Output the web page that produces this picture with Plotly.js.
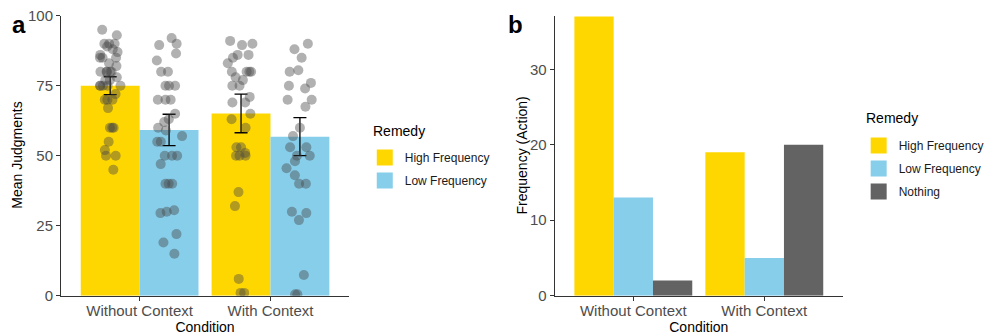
<!DOCTYPE html>
<html>
<head>
<meta charset="utf-8">
<script src="https://cdn.plot.ly/plotly-3.0.1.min.js"></script>
<style>html,body{margin:0;padding:0;background:#fff;}#chart{width:989px;height:336px;}</style>
</head>
<body>
<div id="chart"></div>
<script>
// ---------- data ----------
const conditions = ["Without Context", "With Context"];
const remedies = ["High Frequency", "Low Frequency", "Nothing"];

// Panel a: mean judgments and error half-widths
const meanHigh = [75.0, 65.1];
const meanLow = [59.2, 56.8];
const errHigh = [3.2, 6.9];
const errLow = [5.6, 6.8];

// Panel a: individual judgments
const woHigh = [95, 93, 90, 90, 89, 87, 86, 85, 83, 82, 80, 80, 80, 80, 77, 77, 75, 75, 75, 75,
  70, 70, 70, 67, 60, 60, 60, 55, 52, 50, 50, 45, 88, 85, 80, 78, 75, 72, 90, 85];
const woLow = [92, 90, 89.5, 86.5, 84, 80, 80, 75, 75, 75, 70, 70, 70, 65, 63, 60, 59, 55, 55,
  50, 50, 50, 47, 40, 40, 40, 30.5, 30, 29.5, 22, 19, 15, 62, 57];
const wHigh = [91, 90, 89.5, 86, 86, 85, 83, 80, 80, 80, 80, 78, 77, 75, 75, 71, 69, 69, 65, 63,
  60, 53, 53, 51, 50, 50, 50, 37, 32, 6, 1, 1];
const wLow = [90, 88, 85, 80.5, 80, 76, 75, 74, 70, 70, 67.5, 60, 57, 53, 53, 50, 50, 48, 45.5,
  43, 40, 40, 30, 29.5, 27, 7.4, 0.5, 0.5];

// Panel b: counts
const countHigh = [37, 19];
const countLow = [13, 5];
const countNothing = [2, 20];

// ---------- styles ----------
const cHigh = "#FFD700";
const cLow = "#87CEEB";
const cNothing = "#636363";
const font = "Liberation Sans, Arial, sans-serif";
const axisCol = "#333333";
const tickCol = "#4D4D4D";

const ptsX = (arr, cat) => arr.map(() => cat);

const traces = [
  {type: "bar", x: conditions, y: meanHigh, name: remedies[0], marker: {color: cHigh},
   xaxis: "x", yaxis: "y", showlegend: false,
   error_y: {type: "data", array: errHigh, color: "#000", thickness: 1.3, width: 6.5}},
  {type: "bar", x: conditions, y: meanLow, name: remedies[1], marker: {color: cLow},
   xaxis: "x", yaxis: "y", showlegend: false,
   error_y: {type: "data", array: errLow, color: "#000", thickness: 1.3, width: 6.5}},
  {type: "box", x: ptsX(woHigh, conditions[0]).concat(ptsX(wHigh, conditions[1])),
   y: woHigh.concat(wHigh), name: remedies[0], xaxis: "x", yaxis: "y", showlegend: false,
   boxpoints: "all", jitter: 0.5, pointpos: 0, whiskerwidth: 0,
   fillcolor: "rgba(0,0,0,0)", line: {width: 0, color: "rgba(0,0,0,0)"},
   marker: {color: "rgba(70,70,70,0.42)", size: 10, line: {width: 0}}},
  {type: "box", x: ptsX(woLow, conditions[0]).concat(ptsX(wLow, conditions[1])),
   y: woLow.concat(wLow), name: remedies[1], xaxis: "x", yaxis: "y", showlegend: false,
   boxpoints: "all", jitter: 0.5, pointpos: 0, whiskerwidth: 0,
   fillcolor: "rgba(0,0,0,0)", line: {width: 0, color: "rgba(0,0,0,0)"},
   marker: {color: "rgba(70,70,70,0.42)", size: 10, line: {width: 0}}},
  {type: "bar", x: conditions, y: countHigh, name: remedies[0], marker: {color: cHigh},
   xaxis: "x2", yaxis: "y2", showlegend: false},
  {type: "bar", x: conditions, y: countLow, name: remedies[1], marker: {color: cLow},
   xaxis: "x2", yaxis: "y2", showlegend: false},
  {type: "bar", x: conditions, y: countNothing, name: remedies[2], marker: {color: cNothing},
   xaxis: "x2", yaxis: "y2", showlegend: false}
];

function key(name, color, legend) {
  return {type: "scatter", mode: "markers", x: [null], y: [null], name: name,
    legend: legend, legendgroup: legend + name, xaxis: legend === "legend" ? "x" : "x2",
    yaxis: legend === "legend" ? "y" : "y2",
    marker: {symbol: "square", size: 20, color: color, line: {width: 0}}, hoverinfo: "skip"};
}
traces.push(key(remedies[0], cHigh, "legend"), key(remedies[1], cLow, "legend"));
traces.push(key(remedies[0], cHigh, "legend2"), key(remedies[1], cLow, "legend2"),
            key(remedies[2], cNothing, "legend2"));

const W = 989, H = 336;
const axCommon = {
  showline: true, linecolor: axisCol, linewidth: 1.1, ticks: "outside", ticklen: 4,
  tickcolor: axisCol, tickwidth: 1.1, showgrid: false, zeroline: false,
  tickfont: {family: font, size: 15, color: tickCol}, automargin: false
};
const titleFont = {family: font, size: 14, color: "#000"};

const layout = {
  width: W, height: H,
  margin: {l: 0, r: 0, t: 0, b: 0},
  paper_bgcolor: "#fff", plot_bgcolor: "#fff",
  barmode: "group", bargap: 0.1, bargroupgap: 0,
  boxmode: "group", boxgap: 0.1, boxgroupgap: 0,
  font: {family: font, color: "#000"},
  xaxis: Object.assign({}, axCommon, {domain: [62 / W, 354 / W], type: "category",
    range: [-0.6, 1.6], ticklabelstandoff: -3,
    title: {text: "Condition", font: titleFont, standoff: 4}}),
  yaxis: Object.assign({}, axCommon, {domain: [(H - 295.7) / H, (H - 15.7) / H],
    range: [0, 100], tickvals: [0, 25, 50, 75, 100]}),
  xaxis2: Object.assign({}, axCommon, {domain: [562.7 / W, 855 / W], type: "category",
    range: [-0.6, 1.6], anchor: "y2", ticklabelstandoff: -3,
    title: {text: "Condition", font: titleFont, standoff: 4}}),
  yaxis2: Object.assign({}, axCommon, {domain: [(H - 295.7) / H, (H - 15.7) / H],
    range: [0, 37.1], tickvals: [0, 10, 20, 30], anchor: "x2"}),
  legend: {x: 370 / W, xanchor: "left", y: 1 - 143 / H, yanchor: "top",
    bgcolor: "rgba(0,0,0,0)", tracegroupgap: 4, itemclick: false,
    font: {family: font, size: 12, color: "#1a1a1a"}},
  legend2: {x: 871 / W, xanchor: "left", y: 1 - 131 / H, yanchor: "top",
    bgcolor: "rgba(0,0,0,0)", tracegroupgap: 4, itemclick: false,
    font: {family: font, size: 12, color: "#1a1a1a"}},
  annotations: [
    {text: "<b>a</b>", xref: "paper", yref: "paper", x: 10 / W, y: 1 - 25 / H,
     xanchor: "left", yanchor: "middle", showarrow: false, font: {family: font, size: 24, color: "#000"}},
    {text: "<b>b</b>", xref: "paper", yref: "paper", x: 513 / W, y: 1 - 25 / H,
     xanchor: "left", yanchor: "middle", showarrow: false, font: {family: font, size: 24, color: "#000"}},
    {text: "Mean Judgments", xref: "paper", yref: "paper", x: 17 / W, y: 1 - 155 / H,
     textangle: -90, xanchor: "center", yanchor: "middle", showarrow: false, font: titleFont},
    {text: "Frequency (Action)", xref: "paper", yref: "paper", x: 530 / W, y: 1 - 155 / H,
     textangle: -90, xanchor: "center", yanchor: "middle", showarrow: false, font: titleFont},
    {text: "Remedy", xref: "paper", yref: "paper", x: 376 / W, y: 1 - 131 / H,
     xanchor: "left", yanchor: "middle", showarrow: false, font: titleFont},
    {text: "Remedy", xref: "paper", yref: "paper", x: 876 / W, y: 1 - 118 / H,
     xanchor: "left", yanchor: "middle", showarrow: false, font: titleFont}
  ]
};

Plotly.newPlot("chart", traces, layout, {displayModeBar: false, staticPlot: true});
</script>
</body>
</html>
